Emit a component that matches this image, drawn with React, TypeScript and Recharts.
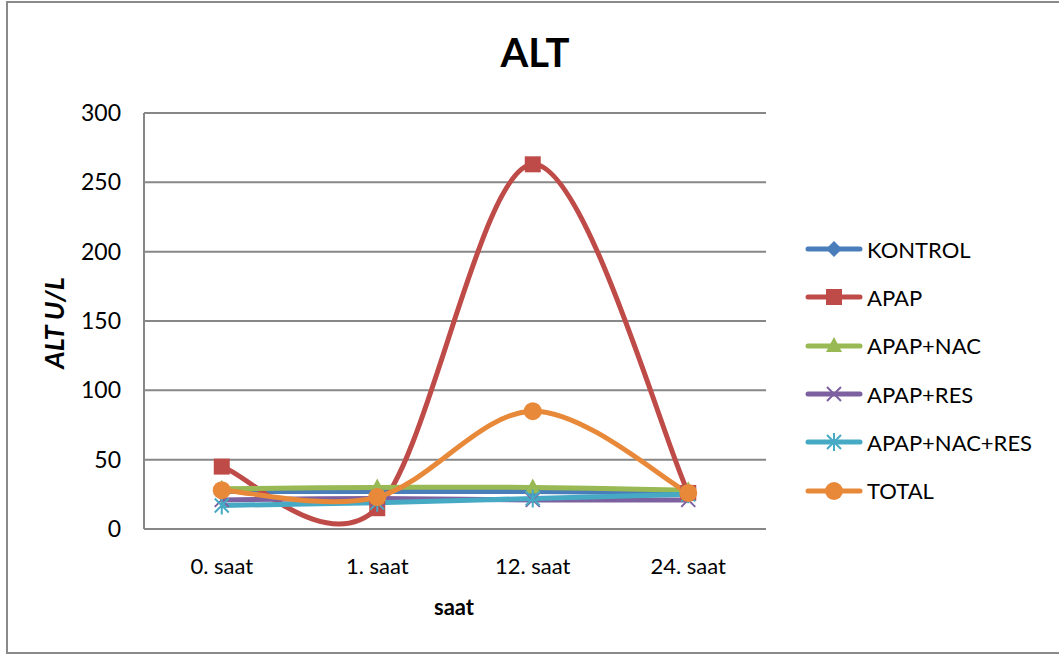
import React from "react";
import { CartesianGrid, Legend, Line, LineChart, XAxis, YAxis } from "recharts";

const hours = ["0. saat", "1. saat", "12. saat", "24. saat"];
const yTicks = [0, 50, 100, 150, 200, 250, 300];

const kontrol = [27, 27, 27, 26];
const apap = [45, 15, 263, 26];
const apapNac = [29, 30, 30, 28];
const apapRes = [21, 22, 21, 21];
const apapNacRes = [17, 19, 22, 25];
const total = [28, 23, 85, 26];

type Shape = "diamond" | "square" | "triangle" | "x" | "star" | "circle";

const series: { key: string; values: number[]; color: string; shape: Shape }[] = [
  { key: "KONTROL", values: kontrol, color: "#4A7EBB", shape: "diamond" },
  { key: "APAP", values: apap, color: "#BE4B48", shape: "square" },
  { key: "APAP+NAC", values: apapNac, color: "#98B954", shape: "triangle" },
  { key: "APAP+RES", values: apapRes, color: "#7D60A0", shape: "x" },
  { key: "APAP+NAC+RES", values: apapNacRes, color: "#46AAC5", shape: "star" },
  { key: "TOTAL", values: total, color: "#E8893A", shape: "circle" },
];

const data = hours.map((hour, i) => {
  const row: Record<string, string | number> = { hour };
  series.forEach((s) => {
    row[s.key] = s.values[i];
  });
  return row;
});

// Catmull-Rom style smoothing (control points at 1/6 of the neighbour span),
// the same kind of curve office charts use for "smoothed line".
const smoothCurve = (context: any) => {
  let pts: [number, number][] = [];
  return {
    areaStart() {},
    areaEnd() {},
    lineStart() {
      pts = [];
    },
    point(x: number, y: number) {
      pts.push([+x, +y]);
    },
    lineEnd() {
      if (!pts.length) return;
      context.moveTo(pts[0][0], pts[0][1]);
      for (let i = 0; i < pts.length - 1; i++) {
        const p0 = pts[Math.max(i - 1, 0)];
        const p1 = pts[i];
        const p2 = pts[i + 1];
        const p3 = pts[Math.min(i + 2, pts.length - 1)];
        context.bezierCurveTo(
          p1[0] + (p2[0] - p0[0]) / 6,
          p1[1] + (p2[1] - p0[1]) / 6,
          p2[0] - (p3[0] - p1[0]) / 6,
          p2[1] - (p3[1] - p1[1]) / 6,
          p2[0],
          p2[1]
        );
      }
    },
  };
};

const Marker = ({ cx, cy, shape, color }: { cx: number; cy: number; shape: Shape; color: string }) => {
  switch (shape) {
    case "diamond":
      return <path d={`M${cx},${cy - 8}L${cx + 8},${cy}L${cx},${cy + 8}L${cx - 8},${cy}Z`} fill={color} />;
    case "square":
      return <rect x={cx - 8} y={cy - 8} width={16} height={16} fill={color} />;
    case "triangle":
      return <path d={`M${cx},${cy - 9}L${cx + 8},${cy + 6}L${cx - 8},${cy + 6}Z`} fill={color} />;
    case "x":
      return (
        <path
          d={`M${cx - 7},${cy - 7}L${cx + 7},${cy + 7}M${cx + 7},${cy - 7}L${cx - 7},${cy + 7}`}
          stroke={color}
          strokeWidth={2}
        />
      );
    case "star":
      return (
        <path
          d={`M${cx - 7},${cy - 7}L${cx + 7},${cy + 7}M${cx + 7},${cy - 7}L${cx - 7},${cy + 7}M${cx},${cy - 9}L${cx},${cy + 9}`}
          stroke={color}
          strokeWidth={2}
        />
      );
    default:
      return <circle cx={cx} cy={cy} r={9} fill={color} />;
  }
};

const font = "Lato, 'Open Sans', sans-serif";

const renderLegend = () => (
  <div style={{ paddingLeft: 39, fontFamily: font }}>
    {series.map((s) => (
      <div key={s.key} style={{ height: 48.3, display: "flex", alignItems: "center" }}>
        <svg width={62} height={24} style={{ display: "block" }}>
          <line x1={3} y1={12} x2={55} y2={12} stroke={s.color} strokeWidth={5} strokeLinecap="round" />
          <Marker cx={29} cy={12} shape={s.shape} color={s.color} />
        </svg>
        <span style={{ fontSize: 22, color: "#000" }}>{s.key}</span>
      </div>
    ))}
  </div>
);

export default function App() {
  return (
    <div style={{ position: "absolute", left: 0, top: 0, width: 1059, height: 654, background: "#fff" }}>
      <div
        style={{
          position: "absolute",
          left: 6,
          top: 1,
          width: 1060,
          height: 649,
          border: "2px solid #8a8a8a",
          borderRight: "none",
        }}
      />
      <LineChart
        width={1059}
        height={654}
        data={data}
        margin={{ top: 113, right: 0, bottom: 95, left: 44 }}
        style={{ fontFamily: font }}
      >
        <CartesianGrid horizontal vertical={false} stroke="#878787" strokeWidth={2} />
        <XAxis
          dataKey="hour"
          height={30}
          padding={{ left: 77.75, right: 77.75 }}
          tickLine={false}
          tickSize={0}
          tickMargin={29}
          axisLine={{ stroke: "#878787", strokeWidth: 2 }}
          tick={{ fill: "#000", fontSize: 22 }}
        />
        <YAxis
          width={100}
          domain={[0, 300]}
          ticks={yTicks}
          tickLine={false}
          tickSize={0}
          tickMargin={23}
          axisLine={{ stroke: "#878787", strokeWidth: 2 }}
          tick={{ fill: "#000", fontSize: 23 }}
        />
        <Legend
          layout="vertical"
          align="right"
          verticalAlign="top"
          width={293}
          wrapperStyle={{ top: 225, right: 0 }}
          content={renderLegend}
        />
        {series.map((s) => (
          <Line
            key={s.key}
            dataKey={s.key}
            type={smoothCurve as any}
            stroke={s.color}
            strokeWidth={5}
            isAnimationActive={false}
            dot={(p: any) => <Marker key={`${s.key}-${p.index}`} cx={p.cx} cy={p.cy} shape={s.shape} color={s.color} />}
            activeDot={false}
          />
        ))}
        <text x={535} y={67} textAnchor="middle" fontSize={40} fontWeight="bold" fill="#000">
          ALT
        </text>
        <text x={454} y={615} textAnchor="middle" fontSize={22} fontWeight="bold" fill="#000">
          saat
        </text>
        <text
          x={64}
          y={323}
          transform="rotate(-90 64 323)"
          textAnchor="middle"
          fontSize={27}
          fontWeight="bold"
          fontStyle="italic"
          fill="#000"
        >
          ALT U/L
        </text>
      </LineChart>
    </div>
  );
}
